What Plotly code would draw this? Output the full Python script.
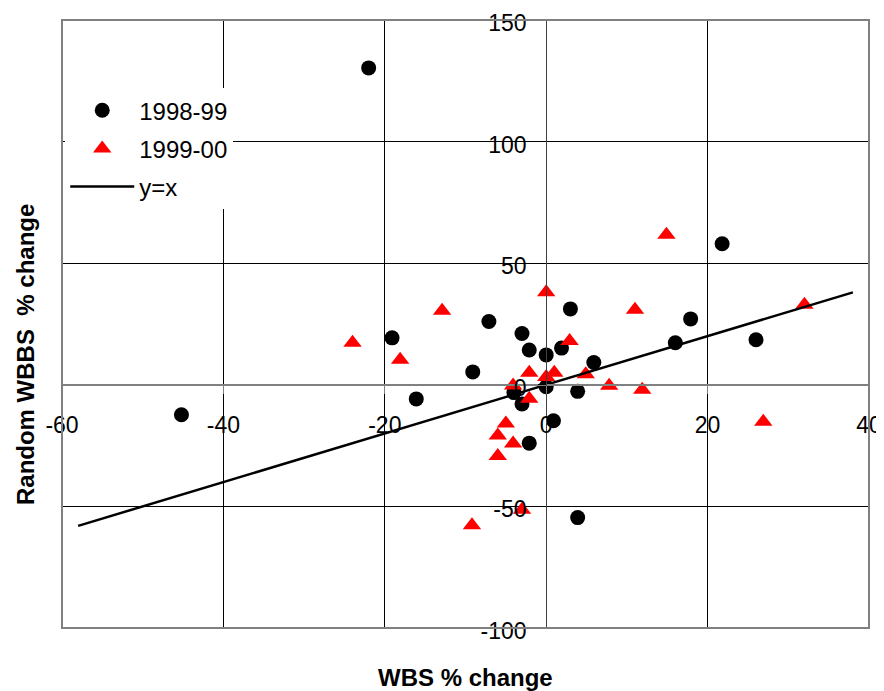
import plotly.graph_objects as go

# 1998-99 series
x_9899 = [-22.0, -45.2, 21.8, -19.1, -16.1, -9.1, -7.1, -3.0, -2.1, 0.0, 1.9, 3.0,
          0.0, -4.0, -3.0, 3.9, 0.9, -2.1, 3.9, 5.9, 16.0, 17.9, 26.0]
y_9899 = [130.3, -12.3, 58.0, 19.3, -5.8, 5.3, 26.0, 21.1, 14.3, 12.3, 15.1, 31.2,
          -0.8, -3.2, -7.9, -2.7, -14.8, -24.0, -54.6, 9.2, 17.3, 27.1, 18.5]

# 1999-00 series
x_9900 = [-24.0, -18.1, -12.9, 0.0, 2.9, -2.1, 0.0, 1.0, 4.9, -4.1, -2.1, -5.0,
          -6.0, -4.1, -6.0, -3.0, -9.2, 11.0, 14.9, 7.8, 11.9, 26.9, 32.0]
y_9900 = [17.3, 10.3, 30.4, 38.1, 18.0, 5.0, 3.2, 5.0, 4.3, -0.3, -5.7, -15.9,
          -20.8, -24.1, -29.3, -51.4, -57.8, 30.9, 61.7, -0.4, -2.0, -15.2, 32.9]

# y = x reference line extent
line_x = [-58, 38]
line_y = [-58, 38]

x_ticks = [-60, -40, -20, 0, 20, 40]
y_ticks = [-100, -50, 0, 50, 100, 150]

FONT = "Liberation Sans, Arial, sans-serif"

fig = go.Figure()
fig.add_trace(go.Scatter(x=x_9899, y=y_9899, mode="markers", name="1998-99",
                         legendgroup="a",
                         marker=dict(symbol="circle", size=15, color="black")))
fig.add_trace(go.Scatter(x=x_9900, y=y_9900, mode="markers", name="1999-00",
                         legendgroup="b",
                         marker=dict(symbol="triangle-up", size=16, color="#ff0000")))
fig.add_trace(go.Scatter(x=line_x, y=line_y, mode="lines", name="y=x",
                         legendgroup="c",
                         line=dict(color="black", width=2.5)))

# the page body adds an 8px offset, so the figure is sized 876x683
fig.update_layout(
    width=876, height=683,
    margin=dict(l=54, r=15, t=12, b=63, autoexpand=False),
    paper_bgcolor="white", plot_bgcolor="white",
    font=dict(family=FONT, size=23, color="black"),
    showlegend=True,
    legend=dict(x=0.004, y=0.888, xanchor="left", yanchor="top",
                bgcolor="white", borderwidth=0, tracegroupgap=4, itemwidth=64,
                font=dict(family=FONT, size=24, color="black")),
    xaxis=dict(range=[-60, 40], tickvals=x_ticks, ticktext=[str(v) for v in x_ticks],
               anchor="free", position=0.4, automargin=False,
               showgrid=True, gridcolor="black", gridwidth=1,
               zeroline=False, showline=True, linecolor="#808080", linewidth=2,
               ticks="outside", ticklen=8, tickcolor="#808080",
               ticklabelstandoff=12, ticklabeloverflow="allow",
               tickfont=dict(family=FONT, size=23, color="black")),
    yaxis=dict(range=[-100, 150], tickvals=y_ticks, ticktext=[str(v) for v in y_ticks],
               anchor="free", position=0.6, automargin=False,
               showgrid=True, gridcolor="black", gridwidth=1,
               zeroline=False, showline=True, linecolor="#404040", linewidth=1,
               ticks="outside", ticklen=8, tickcolor="black",
               ticklabelstandoff=7, ticklabelshift=3, ticklabeloverflow="allow",
               tickfont=dict(family=FONT, size=23, color="black")),
    shapes=[dict(type="rect", xref="x domain", yref="y domain", x0=0, x1=1, y0=0, y1=1,
                 line=dict(color="#808080", width=2), layer="above")],
    annotations=[
        dict(text="<b>WBS % change</b>", xref="paper", yref="paper", x=0.5, y=-0.0806,
             xanchor="center", yanchor="middle", showarrow=False,
             font=dict(family=FONT, size=24, color="black")),
        dict(text="<b>Random WBBS  % change</b>", xref="paper", yref="paper",
             x=-0.0458, y=0.449, xanchor="center", yanchor="middle", textangle=-90,
             showarrow=False, font=dict(family=FONT, size=24, color="black")),
    ],
)

fig.write_html("out.html")
